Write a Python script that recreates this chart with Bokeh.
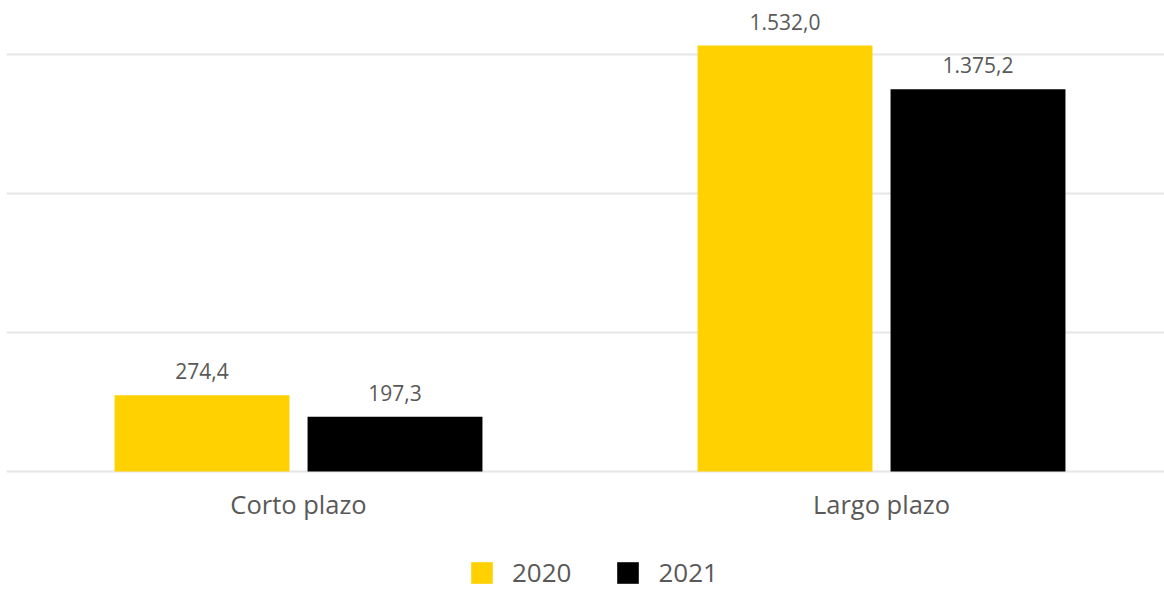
from bokeh.plotting import figure
from bokeh.models import ColumnDataSource, Range1d, FixedTicker, Legend, LegendItem
from bokeh.transform import dodge
from bokeh.core.properties import value
from bokeh.embed import file_html
from bokeh.resources import INLINE

categories = ["Corto plazo", "Largo plazo"]
years = ["2020", "2021"]
values_2020 = [274.4, 1532.0]
values_2021 = [197.3, 1375.2]
grid_ticks = [0, 500, 1000, 1500]

colors = ["#FFD100", "#000000"]
FONT = "Open Sans"
TXT = "#595959"


def fmt(v):
    s = f"{v:,.1f}"
    return s.replace(",", "X").replace(".", ",").replace("X", ".")


xs = list(range(len(categories)))
src = ColumnDataSource(dict(
    x=xs,
    base=[0] * len(xs),
    cat=categories,
    y2020=values_2020,
    y2021=values_2021,
    l2020=[fmt(v) for v in values_2020],
    l2021=[fmt(v) for v in values_2021],
))

p = figure(width=1164, height=590, output_backend="svg", toolbar_location=None,
           x_range=Range1d(-0.5009, 1.4854), y_range=Range1d(-428, 1694),
           min_border_left=6, min_border_right=0, min_border_top=0,
           min_border_bottom=0)
p.outline_line_color = None
p.xgrid.visible = False
p.ygrid.ticker = FixedTicker(ticks=grid_ticks)
p.ygrid.grid_line_color = "#e6e6e6"
p.ygrid.grid_line_width = 2
p.xaxis.visible = False
p.yaxis.visible = False

off = 0.1655
bw = 0.300
r1 = p.vbar(x=dodge("x", -off, range=p.x_range), top="y2020", width=bw, source=src,
            fill_color=colors[0], line_color=None)
r2 = p.vbar(x=dodge("x", off, range=p.x_range), top="y2021", width=bw, source=src,
            fill_color=colors[1], line_color=None)

for col, o in (("2020", -off), ("2021", off)):
    p.text(x=dodge("x", o, range=p.x_range), y="y" + col, text="l" + col, source=src,
           text_align="center", text_baseline="alphabetic", y_offset=-24,
           text_font=value(FONT), text_font_size="21px", text_color=TXT)

# category labels under the baseline
p.text(x="x", y="base", text="cat", source=src, text_align="center",
       text_baseline="alphabetic", y_offset=33,
       text_font=value(FONT), text_font_size="25.5px", text_color=TXT)

legend = Legend(items=[LegendItem(label=years[0], renderers=[r1]),
                       LegendItem(label=years[1], renderers=[r2])],
                orientation="horizontal", location=(462, 0),
                glyph_width=27, glyph_height=27, label_standoff=17, spacing=43,
                label_text_font=FONT, label_text_font_size="26px", label_text_color=TXT,
                border_line_alpha=0, background_fill_alpha=0, padding=0, margin=0)
p.add_layout(legend)

open("out.html", "w").write(file_html(p, INLINE))
